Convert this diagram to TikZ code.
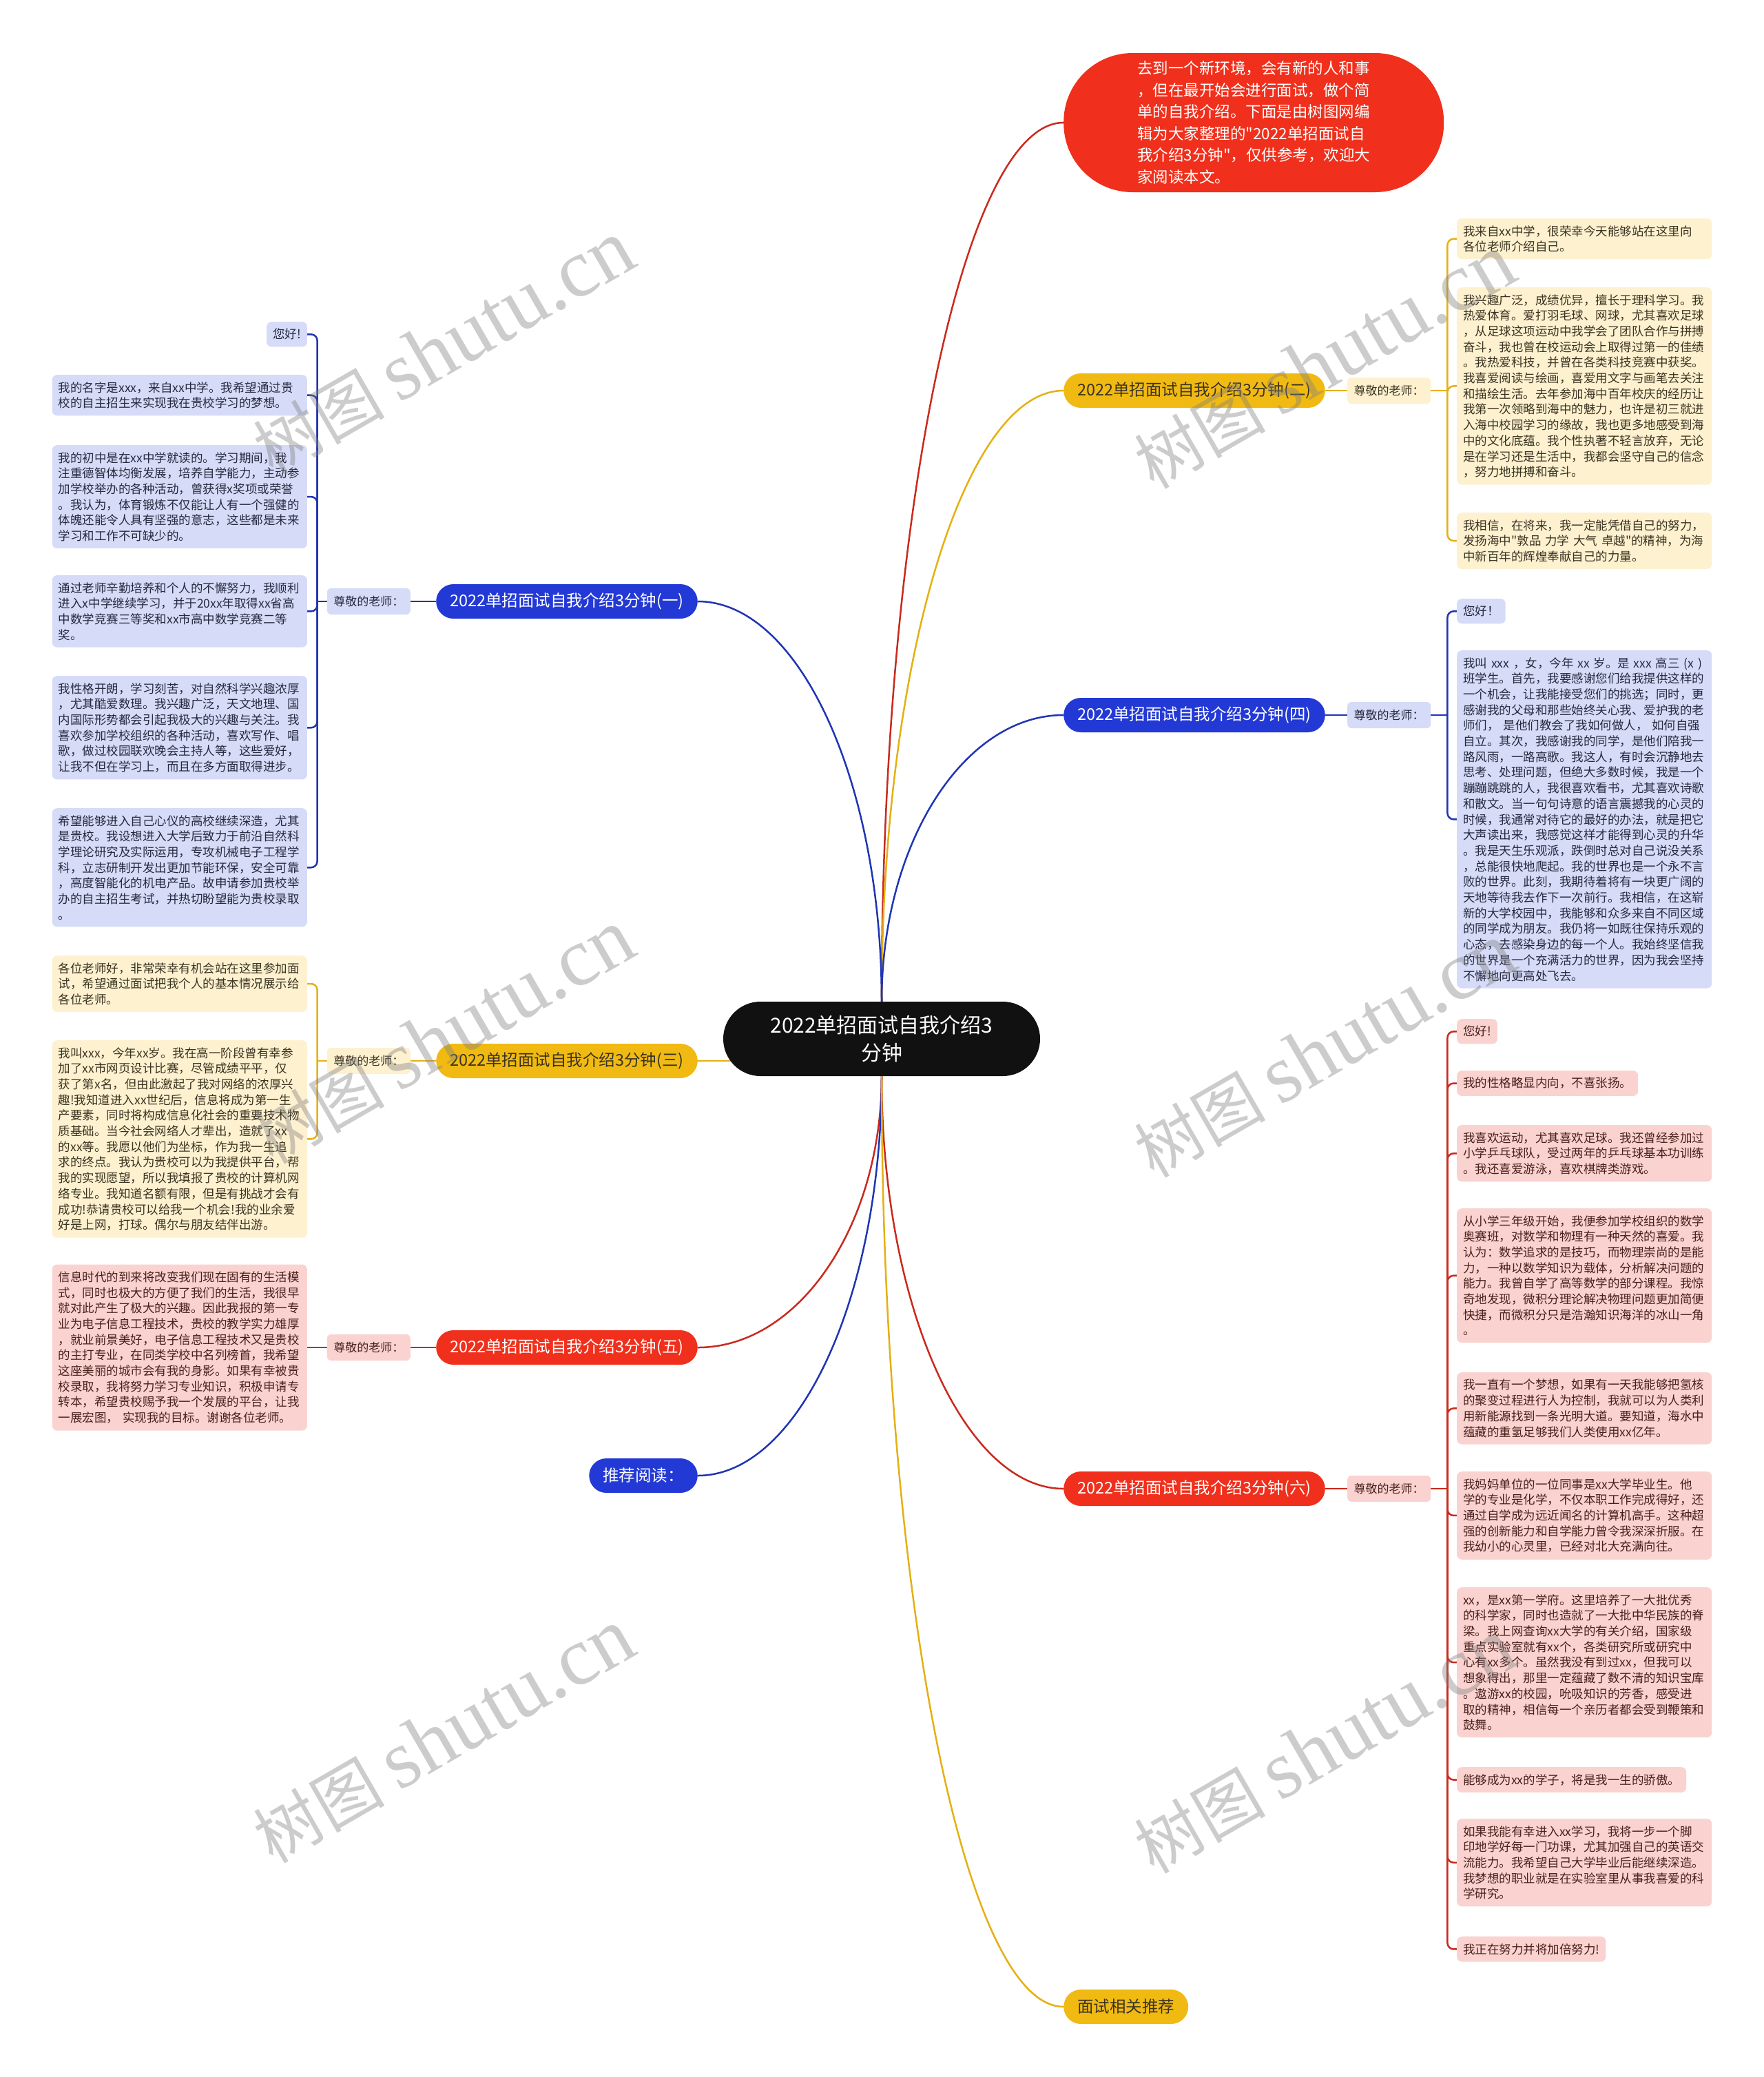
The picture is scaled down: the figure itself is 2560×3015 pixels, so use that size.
\documentclass[tikz,border=0pt]{standalone}
\usepackage{fontspec}
\setmainfont{Noto Sans CJK SC}[Ligatures=TeXOff]
\newfontfamily\wmlatin{Liberation Serif}
\usetikzlibrary{calc}
\definecolor{hubblack}{HTML}{111111}
\definecolor{cblue}{HTML}{2339D6}
\definecolor{cred}{HTML}{F0301C}
\definecolor{cyellow}{HTML}{F1BA12}
\definecolor{lblue}{HTML}{1F35B3}
\definecolor{lred}{HTML}{C92A1D}
\definecolor{lyellow}{HTML}{E5B013}
\definecolor{pblue}{HTML}{D6DBF7}
\definecolor{pred}{HTML}{FAD3D0}
\definecolor{pyellow}{HTML}{FDF1CF}
\definecolor{tblue}{HTML}{262A40}
\definecolor{tred}{HTML}{4A1F1C}
\definecolor{tyellow}{HTML}{3A3322}
\newcommand\hubfont{\fontsize{30}{40}\selectfont}
\newcommand\introfont{\fontsize{22.5}{31.5}\selectfont}
\newcommand\topicfont{\fontsize{23.5}{28}\selectfont}
\newcommand\notefont{\fontsize{17}{21}\selectfont}
\newcommand\leaffont{\fontsize{17.5}{22.7}\selectfont}
\newcommand\wmfont{\fontsize{95}{100}\selectfont}
\newcommand\wmlatinfont{\wmlatin\fontsize{120}{125}\selectfont}
\newcommand\branch[3]{\draw[#1] (#2) .. controls ($(#2)!0.55!(#2|-#3)$) and ($(#3)!0.55!(#2|-#3)$) .. (#3);}
\newcommand\twig[3]{\draw[#1,rounded corners=9pt] (#2) |- (#3);}
\pgfdeclarelayer{bg}
\pgfsetlayers{bg,main}
\begin{document}
\begin{tikzpicture}[x=1pt,y=-1pt,
  hub/.style={fill=hubblack,text=white,rounded corners=54pt,minimum width=460pt,minimum height=108pt,align=center,font=\hubfont,inner sep=0pt},
  intro/.style={fill=cred,text=white,rounded corners=100pt,minimum width=552pt,minimum height=202pt,align=left,font=\introfont,inner sep=0pt},
  topic/.style={rounded corners=25pt,minimum height=50pt,inner xsep=20pt,inner ysep=0pt,font=\topicfont},
  note/.style={rounded corners=6pt,minimum height=38pt,inner xsep=9.5pt,inner ysep=0pt,font=\notefont},
  leaf/.style={rounded corners=7pt,inner xsep=9pt,inner ysep=10pt,align=left,font=\leaffont},
  wide/.style={leaf,text width=352pt},
  bl/.style={draw=lblue,line width=2.5pt},
  rd/.style={draw=lred,line width=2.5pt},
  yl/.style={draw=lyellow,line width=2.5pt},
  wm/.style={rotate=30,text=gray,opacity=0.4,font=\wmfont,inner sep=0pt}]
\useasboundingbox (0,0) rectangle (2560,3015);
\node[hub] (c) at (1280,1508) {2022单招面试自我介绍3\\分钟};
\node[intro,anchor=west] (intro) at (1544,178) {去到一个新环境，会有新的人和事\\，但在最开始会进行面试，做个简\\单的自我介绍。下面是由树图网编\\辑为大家整理的"2022单招面试自\\我介绍3分钟"，仅供参考，欢迎大\\家阅读本文。};
\node[topic,fill=cblue,text=white,anchor=east] (t1) at (1013,873) {2022单招面试自我介绍3分钟(一)};
\node[topic,fill=cyellow,text=tyellow,anchor=east] (t3) at (1013,1540) {2022单招面试自我介绍3分钟(三)};
\node[topic,fill=cred,text=white,anchor=east] (t5) at (1013,1956) {2022单招面试自我介绍3分钟(五)};
\node[topic,fill=cblue,text=white,anchor=east] (read) at (1013,2142) {推荐阅读：};
\node[topic,fill=cyellow,text=tyellow,anchor=west] (t2) at (1544,567) {2022单招面试自我介绍3分钟(二)};
\node[topic,fill=cblue,text=white,anchor=west] (t4) at (1544,1038) {2022单招面试自我介绍3分钟(四)};
\node[topic,fill=cred,text=white,anchor=west] (t6) at (1544,2161) {2022单招面试自我介绍3分钟(六)};
\node[topic,fill=cyellow,text=tyellow,anchor=west] (more) at (1544,2913) {面试相关推荐};
\node[note,fill=pblue,text=tblue,anchor=east] (n1) at (596,873) {尊敬的老师：};
\node[note,fill=pyellow,text=tyellow,anchor=east] (n3) at (596,1540) {尊敬的老师：};
\node[note,fill=pred,text=tred,anchor=east] (n5) at (596,1956) {尊敬的老师：};
\node[note,fill=pyellow,text=tyellow,anchor=west] (n2) at (1956,567) {尊敬的老师：};
\node[note,fill=pblue,text=tblue,anchor=west] (n4) at (1956,1038) {尊敬的老师：};
\node[note,fill=pred,text=tred,anchor=west] (n6) at (1956,2161) {尊敬的老师：};
\node[leaf,fill=pblue,text=tblue,anchor=north east] (a1) at (446,467) {您好!};
\node[wide,fill=pblue,text=tblue,anchor=north east] (a2) at (446,544) {我的名字是xxx，来自xx中学。我希望通过贵\\校的自主招生来实现我在贵校学习的梦想。};
\node[wide,fill=pblue,text=tblue,anchor=north east] (a3) at (446,646) {我的初中是在xx中学就读的。学习期间，我\\注重德智体均衡发展，培养自学能力，主动参\\加学校举办的各种活动，曾获得x奖项或荣誉\\。我认为，体育锻炼不仅能让人有一个强健的\\体魄还能令人具有坚强的意志，这些都是未来\\学习和工作不可缺少的。};
\node[wide,fill=pblue,text=tblue,anchor=north east] (a4) at (446,835) {通过老师辛勤培养和个人的不懈努力，我顺利\\进入x中学继续学习，并于20xx年取得xx省高\\中数学竞赛三等奖和xx市高中数学竞赛二等\\奖。};
\node[wide,fill=pblue,text=tblue,anchor=north east] (a5) at (446,981) {我性格开朗，学习刻苦，对自然科学兴趣浓厚\\，尤其酷爱数理。我兴趣广泛，天文地理、国\\内国际形势都会引起我极大的兴趣与关注。我\\喜欢参加学校组织的各种活动，喜欢写作、唱\\歌，做过校园联欢晚会主持人等，这些爱好，\\让我不但在学习上，而且在多方面取得进步。};
\node[wide,fill=pblue,text=tblue,anchor=north east] (a6) at (446,1173) {希望能够进入自己心仪的高校继续深造，尤其\\是贵校。我设想进入大学后致力于前沿自然科\\学理论研究及实际运用，专攻机械电子工程学\\科，立志研制开发出更加节能环保，安全可靠\\，高度智能化的机电产品。故申请参加贵校举\\办的自主招生考试，并热切盼望能为贵校录取\\。};
\node[wide,fill=pyellow,text=tyellow,anchor=north east] (b1) at (446,1387) {各位老师好，非常荣幸有机会站在这里参加面\\试，希望通过面试把我个人的基本情况展示给\\各位老师。};
\node[wide,fill=pyellow,text=tyellow,anchor=north east] (b2) at (446,1510) {我叫xxx，今年xx岁。我在高一阶段曾有幸参\\加了xx市网页设计比赛，尽管成绩平平，仅\\获了第x名，但由此激起了我对网络的浓厚兴\\趣!我知道进入xx世纪后，信息将成为第一生\\产要素，同时将构成信息化社会的重要技术物\\质基础。当今社会网络人才辈出，造就了xx\\的xx等。我愿以他们为坐标，作为我一生追\\求的终点。我认为贵校可以为我提供平台，帮\\我的实现愿望，所以我填报了贵校的计算机网\\络专业。我知道名额有限，但是有挑战才会有\\成功!恭请贵校可以给我一个机会!我的业余爱\\好是上网，打球。偶尔与朋友结伴出游。};
\node[wide,fill=pred,text=tred,anchor=east] (f1) at (446,1956) {信息时代的到来将改变我们现在固有的生活模\\式，同时也极大的方便了我们的生活，我很早\\就对此产生了极大的兴趣。因此我报的第一专\\业为电子信息工程技术，贵校的教学实力雄厚\\，就业前景美好，电子信息工程技术又是贵校\\的主打专业，在同类学校中名列榜首，我希望\\这座美丽的城市会有我的身影。如果有幸被贵\\校录取，我将努力学习专业知识，积极申请专\\转本，希望贵校赐予我一个发展的平台，让我\\一展宏图， 实现我的目标。谢谢各位老师。};
\node[wide,fill=pyellow,text=tyellow,anchor=north west] (e1) at (2115,317) {我来自xx中学，很荣幸今天能够站在这里向\\各位老师介绍自己。};
\node[wide,fill=pyellow,text=tyellow,anchor=north west] (e2) at (2115,417) {我兴趣广泛，成绩优异，擅长于理科学习。我\\热爱体育。爱打羽毛球、网球，尤其喜欢足球\\，从足球这项运动中我学会了团队合作与拼搏\\奋斗，我也曾在校运动会上取得过第一的佳绩\\。我热爱科技，并曾在各类科技竞赛中获奖。\\我喜爱阅读与绘画，喜爱用文字与画笔去关注\\和描绘生活。去年参加海中百年校庆的经历让\\我第一次领略到海中的魅力，也许是初三就进\\入海中校园学习的缘故，我也更多地感受到海\\中的文化底蕴。我个性执著不轻言放弃，无论\\是在学习还是生活中，我都会坚守自己的信念\\，努力地拼搏和奋斗。};
\node[wide,fill=pyellow,text=tyellow,anchor=north west] (e3) at (2115,744) {我相信，在将来，我一定能凭借自己的努力，\\发扬海中"敦品 力学 大气 卓越"的精神，为海\\中新百年的辉煌奉献自己的力量。};
\node[leaf,fill=pblue,text=tblue,anchor=north west] (s1) at (2115,869) {您好！};
\node[wide,fill=pblue,text=tblue,anchor=north west] (s2) at (2115,944) {我叫 xxx ，女，今年 xx 岁。是 xxx 高三 (x )\\班学生。首先，我要感谢您们给我提供这样的\\一个机会，让我能接受您们的挑选；同时，更\\感谢我的父母和那些始终关心我、爱护我的老\\师们， 是他们教会了我如何做人， 如何自强\\自立。其次，我感谢我的同学，是他们陪我一\\路风雨，一路高歌。我这人，有时会沉静地去\\思考、处理问题，但绝大多数时候，我是一个\\蹦蹦跳跳的人，我很喜欢看书，尤其喜欢诗歌\\和散文。当一句句诗意的语言震撼我的心灵的\\时候，我通常对待它的最好的办法，就是把它\\大声读出来，我感觉这样才能得到心灵的升华\\。我是天生乐观派，跌倒时总对自己说没关系\\，总能很快地爬起。我的世界也是一个永不言\\败的世界。此刻，我期待着将有一块更广阔的\\天地等待我去作下一次前行。我相信，在这崭\\新的大学校园中，我能够和众多来自不同区域\\的同学成为朋友。我仍将一如既往保持乐观的\\心态，去感染身边的每一个人。我始终坚信我\\的世界是一个充满活力的世界，因为我会坚持\\不懈地向更高处飞去。};
\node[leaf,fill=pred,text=tred,anchor=north west] (x1) at (2115,1479) {您好!};
\node[leaf,fill=pred,text=tred,anchor=north west] (x2) at (2115,1554) {我的性格略显内向，不喜张扬。};
\node[wide,fill=pred,text=tred,anchor=north west] (x3) at (2115,1633) {我喜欢运动，尤其喜欢足球。我还曾经参加过\\小学乒乓球队，受过两年的乒乓球基本功训练\\。我还喜爱游泳，喜欢棋牌类游戏。};
\node[wide,fill=pred,text=tred,anchor=north west] (x4) at (2115,1754) {从小学三年级开始，我便参加学校组织的数学\\奥赛班，对数学和物理有一种天然的喜爱。我\\认为：数学追求的是技巧，而物理崇尚的是能\\力，一种以数学知识为载体，分析解决问题的\\能力。我曾自学了高等数学的部分课程。我惊\\奇地发现，微积分理论解决物理问题更加简便\\快捷，而微积分只是浩瀚知识海洋的冰山一角\\。};
\node[wide,fill=pred,text=tred,anchor=north west] (x5) at (2115,1992) {我一直有一个梦想，如果有一天我能够把氢核\\的聚变过程进行人为控制，我就可以为人类利\\用新能源找到一条光明大道。要知道，海水中\\蕴藏的重氢足够我们人类使用xx亿年。};
\node[wide,fill=pred,text=tred,anchor=north west] (x6) at (2115,2136) {我妈妈单位的一位同事是xx大学毕业生。他\\学的专业是化学，不仅本职工作完成得好，还\\通过自学成为远近闻名的计算机高手。这种超\\强的创新能力和自学能力曾令我深深折服。在\\我幼小的心灵里，已经对北大充满向往。};
\node[wide,fill=pred,text=tred,anchor=north west] (x7) at (2115,2304) {xx，是xx第一学府。这里培养了一大批优秀\\的科学家，同时也造就了一大批中华民族的脊\\梁。我上网查询xx大学的有关介绍，国家级\\重点实验室就有xx个，各类研究所或研究中\\心有xx多个。虽然我没有到过xx，但我可以\\想象得出，那里一定蕴藏了数不清的知识宝库\\。遨游xx的校园，吮吸知识的芳香，感受进\\取的精神，相信每一个亲历者都会受到鞭策和\\鼓舞。};
\node[leaf,fill=pred,text=tred,anchor=north west] (x8) at (2115,2565) {能够成为xx的学子，将是我一生的骄傲。};
\node[wide,fill=pred,text=tred,anchor=north west] (x9) at (2115,2640) {如果我能有幸进入xx学习，我将一步一个脚\\印地学好每一门功课，尤其加强自己的英语交\\流能力。我希望自己大学毕业后能继续深造。\\我梦想的职业就是在实验室里从事我喜爱的科\\学研究。};
\node[leaf,fill=pred,text=tred,anchor=north west] (x10) at (2115,2811) {我正在努力并将加倍努力!};
\coordinate (j1) at ($(n1.west)+(-14,0)$);
\coordinate (j3) at ($(n3.west)+(-14,0)$);
\coordinate (j5) at ($(n5.west)+(-14,0)$);
\coordinate (j2) at ($(n2.east)+(24,0)$);
\coordinate (j4) at ($(n4.east)+(24,0)$);
\coordinate (j6) at ($(n6.east)+(24,0)$);
\begin{pgfonlayer}{bg}
\fill[white] (0,0) rectangle (2560,3015);
\branch{rd}{c.north}{intro.west}
\branch{yl}{c.north}{t2.west}
\branch{bl}{c.north}{t4.west}
\branch{bl}{c.north}{t1.east}
\branch{rd}{c.south}{t5.east}
\branch{bl}{c.south}{read.east}
\branch{rd}{c.south}{t6.west}
\branch{yl}{c.south}{more.west}
\draw[yl] (t3.east) -- (c.center|-t3.east);
\draw[bl] (t1.west) -- (n1.east);
\draw[yl] (t3.west) -- (n3.east);
\draw[rd] (t5.west) -- (n5.east);
\draw[yl] (t2.east) -- (n2.west);
\draw[bl] (t4.east) -- (n4.west);
\draw[rd] (t6.east) -- (n6.west);
\draw[bl] (n1.west) -- (j1);
\draw[yl] (n3.west) -- (j3);
\draw[rd] (n5.west) -- (f1.east);
\draw[yl] (n2.east) -- (j2);
\draw[bl] (n4.east) -- (j4);
\draw[rd] (n6.east) -- (j6);
\twig{bl}{j1}{a1.east}
\twig{bl}{j1}{a2.east}
\twig{bl}{j1}{a3.east}
\twig{bl}{j1}{a4.east}
\twig{bl}{j1}{a5.east}
\twig{bl}{j1}{a6.east}
\twig{yl}{j3}{b1.east}
\twig{yl}{j3}{b2.east}
\twig{yl}{j2}{e1.west}
\twig{yl}{j2}{e2.west}
\twig{yl}{j2}{e3.west}
\twig{bl}{j4}{s1.west}
\twig{bl}{j4}{s2.west}
\twig{rd}{j6}{x1.west}
\twig{rd}{j6}{x2.west}
\twig{rd}{j6}{x3.west}
\twig{rd}{j6}{x4.west}
\twig{rd}{j6}{x5.west}
\twig{rd}{j6}{x6.west}
\twig{rd}{j6}{x7.west}
\twig{rd}{j6}{x8.west}
\twig{rd}{j6}{x9.west}
\twig{rd}{j6}{x10.west}
\end{pgfonlayer}
\node[wm] (wm1) at (644,505) {树图 {\wmlatinfont shutu.cn}};
\node[wm] (wm2) at (1923,525) {树图 {\wmlatinfont shutu.cn}};
\node[wm] (wm3) at (644,1505) {树图 {\wmlatinfont shutu.cn}};
\node[wm] (wm4) at (1923,1525) {树图 {\wmlatinfont shutu.cn}};
\node[wm] (wm5) at (644,2520) {树图 {\wmlatinfont shutu.cn}};
\node[wm] (wm6) at (1923,2535) {树图 {\wmlatinfont shutu.cn}};
\end{tikzpicture}
\end{document}
